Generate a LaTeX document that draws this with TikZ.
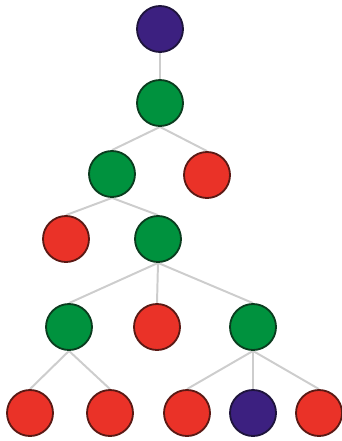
\documentclass[tikz,border=0pt]{standalone}
\usetikzlibrary{backgrounds}
\definecolor{treepurple}{RGB}{60,32,128}
\definecolor{treepurpled}{RGB}{30,20,60}
\definecolor{treegreen}{RGB}{0,146,62}
\definecolor{treegreend}{RGB}{10,60,30}
\definecolor{treered}{RGB}{234,50,40}
\definecolor{treeredd}{RGB}{90,25,20}
\definecolor{treegray}{RGB}{205,205,205}
\begin{document}
\begin{tikzpicture}[x=0.025cm,y=-0.025cm,
  dot/.style={circle,minimum size=1.15cm,inner sep=0pt,line width=1.3pt},
  pnode/.style={dot,draw=treepurpled,fill=treepurple},
  gnode/.style={dot,draw=treegreend,fill=treegreen},
  rnode/.style={dot,draw=treeredd,fill=treered},
  link/.style={draw=treegray,line width=1.4pt}]
  \useasboundingbox (0,0) rectangle (342,441);
  \node[pnode](n1) at (160,29) {};
  \node[gnode](n2) at (160,103) {};
  \node[gnode](n3) at (112,174) {};
  \node[rnode](n4) at (207,175) {};
  \node[rnode](n5) at (66,239) {};
  \node[gnode](n6) at (158,239) {};
  \node[gnode](n7) at (69,327) {};
  \node[rnode](n8) at (157,327) {};
  \node[gnode](n9) at (253,327) {};
  \node[rnode](n10) at (30,413) {};
  \node[rnode](n11) at (110,413) {};
  \node[rnode](n12) at (187,413) {};
  \node[pnode](n13) at (253,413) {};
  \node[rnode](n14) at (319,413) {};
  \begin{scope}[on background layer]
    \draw[link](n1.south)--(n2.north);
    \draw[link](n2.south)--(n3.north);
    \draw[link](n2.south)--(n4.north);
    \draw[link](n3.south)--(n5.north);
    \draw[link](n3.south)--(n6.north);
    \draw[link](n6.south)--(n7.north);
    \draw[link](n6.south)--(n8.north);
    \draw[link](n6.south)--(n9.north);
    \draw[link](n7.south)--(n10.north);
    \draw[link](n7.south)--(n11.north);
    \draw[link](n9.south)--(n12.north);
    \draw[link](n9.south)--(n13.north);
    \draw[link](n9.south)--(n14.north);
  \end{scope}
\end{tikzpicture}
\end{document}
